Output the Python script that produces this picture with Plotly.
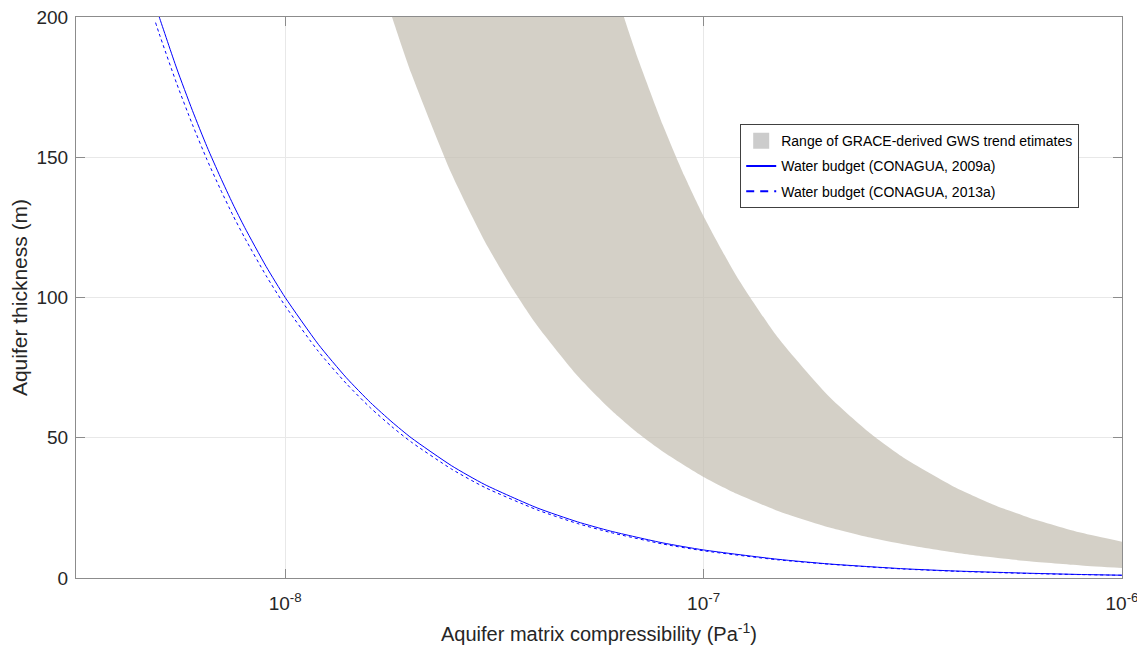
import plotly.graph_objects as go

# Compressibility values (Pa^-1) at which curves were read
alpha_wb = [4.9e-9, 5e-9, 5.5e-9, 6e-9, 6.5e-9, 7e-9, 7.5e-9, 8e-9, 9e-9, 1e-8,
            1.2e-8, 1.4e-8, 1.6e-8, 1.8e-8, 2e-8, 2.5e-8, 3e-8, 4e-8, 5e-8, 6e-8,
            8e-8, 1e-7, 1.5e-7, 2e-7, 3e-7, 4e-7, 6e-7, 8e-7, 1e-6]
# Water budget (CONAGUA, 2009a) thickness (m)
h_2009 = [204, 200, 181.8, 166.7, 153.8, 142.9, 133.3, 125, 111.1, 100,
          83.3, 71.4, 62.5, 55.6, 50, 40, 33.3, 25, 20, 16.7,
          12.5, 10, 6.7, 5, 3.3, 2.5, 1.7, 1.25, 1.0]
# Water budget (CONAGUA, 2013a) thickness (m)
h_2013 = [198, 194, 176.4, 161.7, 149.2, 138.6, 129.3, 121.3, 107.8, 97,
          80.8, 69.3, 60.6, 53.9, 48.5, 38.8, 32.3, 24.3, 19.4, 16.2,
          12.1, 9.7, 6.5, 4.9, 3.2, 2.4, 1.6, 1.2, 0.97]

# GRACE-derived range: lower and upper bounds
alpha_low = [1.75e-8, 1.8e-8, 2e-8, 2.5e-8, 3e-8, 3.5e-8, 4e-8, 5e-8, 6e-8, 7e-8,
             8e-8, 1e-7, 1.2e-7, 1.5e-7, 2e-7, 2.5e-7, 3e-7, 4e-7, 5e-7, 6e-7,
             8e-7, 1e-6]
h_low = [205.7, 200, 180, 144, 120, 102.9, 90, 72, 60, 51.4,
         45, 36, 30, 24, 18, 14.4, 12, 9, 7.2, 6,
         4.5, 3.6]
alpha_up = [5.5e-8, 6e-8, 6.45e-8, 7e-8, 8e-8, 9e-8, 1e-7, 1.2e-7,
            1.5e-7, 2e-7, 2.5e-7, 3e-7, 4e-7, 5e-7, 6e-7, 8e-7, 1e-6]
h_up = [234.5, 215, 200, 184.3, 161.3, 143.3, 129, 107.5,
        86, 64.5, 51.6, 43, 32.3, 25.8, 21.5, 16.1, 12.9]

x_ticks = [1e-8, 1e-7, 1e-6]
x_ticktext = ["10<sup>-8</sup>", "10<sup>-7</sup>", "10<sup>-6</sup>"]
y_ticks = [0, 50, 100, 150, 200]

names = ["Range of GRACE-derived GWS trend etimates",
         "Water budget (CONAGUA, 2009a)",
         "Water budget (CONAGUA, 2013a)"]
x_title = "Aquifer matrix compressibility (Pa<sup>-1</sup>)"
y_title = "Aquifer thickness (m)"
band_color = "rgba(196,190,178,0.72)"
blue = "#0000ff"

fig = go.Figure()
# band: lower bound then upper bound filled to it
fig.add_trace(go.Scatter(
    x=alpha_low, y=h_low, mode="lines", showlegend=False, hoverinfo="skip",
    line=dict(width=0, shape="spline", smoothing=0.6, color=band_color)))
fig.add_trace(go.Scatter(
    x=alpha_up, y=h_up, mode="lines", fill="tonexty", fillcolor=band_color,
    showlegend=False, hoverinfo="skip",
    line=dict(width=0, shape="spline", smoothing=0.6, color=band_color)))
fig.add_trace(go.Scatter(
    x=alpha_wb, y=h_2009, mode="lines", showlegend=False,
    line=dict(color=blue, width=1, shape="spline", smoothing=0.6)))
fig.add_trace(go.Scatter(
    x=alpha_wb, y=h_2013, mode="lines", showlegend=False,
    line=dict(color=blue, width=1, dash="3px,3px", shape="spline", smoothing=0.6)))

# legend entries
fig.add_trace(go.Scatter(
    x=[None], y=[None], mode="markers", name=names[0], legendgroup="a",
    marker=dict(symbol="square", size=16, color="#cccccc", line=dict(width=0))))
fig.add_trace(go.Scatter(
    x=[None], y=[None], mode="lines", name=names[1], legendgroup="b",
    line=dict(color=blue, width=2)))
fig.add_trace(go.Scatter(
    x=[None], y=[None], mode="lines", name=names[2], legendgroup="c",
    line=dict(color=blue, width=2, dash="8px,6px")))

axis_common = dict(showline=True, linecolor="#8c8c8c", linewidth=1, mirror="ticks",
                   ticks="inside", ticklen=9, tickcolor="#8c8c8c",
                   showgrid=True, gridcolor="#e8e8e8", gridwidth=1,
                   zeroline=False, automargin=False, ticklabeloverflow="allow",
                   tickfont=dict(size=19, color="#262626"))

fig.update_layout(
    width=1137, height=643,
    margin=dict(l=68, r=23, t=9, b=73),
    paper_bgcolor="white", plot_bgcolor="white",
    font=dict(family="Liberation Sans, Arial, sans-serif", color="#262626"),
    showlegend=True,
    legend=dict(x=0.635, y=0.809, xanchor="left", yanchor="top",
                bgcolor="white", bordercolor="#404040", borderwidth=1,
                font=dict(size=14, color="#000000"), tracegroupgap=4,
                itemwidth=30),
    annotations=[dict(text=x_title, xref="paper", yref="paper", x=0.5, y=-0.098,
                      xanchor="center", yanchor="middle", showarrow=False,
                      font=dict(size=20, color="#262626"))],
)
fig.update_xaxes(type="log", range=[-8.5, -6], tickvals=x_ticks, ticktext=x_ticktext,
                 ticklabelstandoff=8, **axis_common)
fig.update_yaxes(range=[0, 200], tickvals=y_ticks, ticklabelstandoff=3,
                 title=dict(text=y_title, font=dict(size=21, color="#262626"), standoff=6),
                 **axis_common)

fig.write_html("out.html")
